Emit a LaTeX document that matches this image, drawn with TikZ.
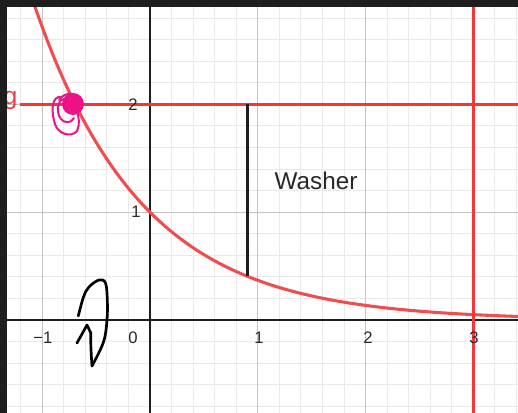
\documentclass[tikz,border=0pt]{standalone}
\usepackage{fontspec}
\setmainfont{Liberation Sans}
\definecolor{minorc}{RGB}{234,234,234}
\definecolor{majorc}{RGB}{196,196,196}
\definecolor{axisc}{RGB}{30,30,30}
\definecolor{curvec}{RGB}{240,78,78}
\definecolor{redlc}{RGB}{248,52,52}
\definecolor{labelc}{RGB}{40,40,40}
\definecolor{pinkc}{RGB}{238,18,138}
\definecolor{framec}{RGB}{30,30,30}
\definecolor{gc}{RGB}{235,60,70}
\begin{document}
\begin{tikzpicture}[x=0.75pt,y=-0.75pt,
  minorgrid/.style={draw=minorc,line width=0.75pt},
  majorgrid/.style={draw=majorc,line width=0.9pt},
  axisline/.style={draw=axisc,line width=1.1pt},
  curvestyle/.style={draw=curvec,line width=2.3pt},
  redline/.style={draw=redlc,line width=2.2pt},
  ticklabel/.style={font=\fontsize{12.5}{14}\selectfont,text=labelc,inner sep=0pt},
  pen/.style={draw=black,line width=2pt,line cap=round,line join=round},
  pinkpen/.style={draw=pinkc,line width=1.5pt,line cap=round,line join=round}]
\useasboundingbox (0,0) rectangle (518,413);
\fill[white] (0,0) rectangle (518,413);
\begin{scope}
\clip (7,7) rectangle (518,413);
% minor grid
\foreach \k in {-7,...,17} {\draw[minorgrid] ({150+21.56*\k},0) -- ({150+21.56*\k},413);}
\foreach \k in {-5,...,15} {\draw[minorgrid] (0,{320-21.56*\k}) -- (518,{320-21.56*\k});}
% major grid
\foreach \k in {-1,1,2,3} {\draw[majorgrid] ({150+107.8*\k},0) -- ({150+107.8*\k},413);}
\foreach \k in {1,2} {\draw[majorgrid] (0,{320-107.8*\k}) -- (518,{320-107.8*\k});}
% axes
\draw[axisline] (0,320) -- (518,320);
\draw[axisline] (150,0) -- (150,413);
% curve y = e^{-x}
\draw[curvestyle] plot[domain=-1.12:3.5,samples=200,smooth] ({150+107.8*\x},{320-107.8*exp(-\x)});
% red lines
\draw[redline] (20,104.4) -- (518,104.4);
\draw[redline] (473.4,0) -- (473.4,413);
% red g label
\node[font=\fontsize{18.5}{20}\selectfont,text=gc,inner sep=0pt,anchor=base east] (glabel) at (17.5,105) {g};
\end{scope}
% washer segment
\coordinate (top) at (247.5,104.4);
\coordinate (bot) at (247.5,276.5);
\draw[draw=axisc,line width=2pt] (top) -- (bot);
\node[font=\fontsize{18.2}{20}\selectfont,text=labelc,inner sep=0pt] (washer) at (316,181) {Washer};
% tick labels
\node[ticklabel] (xm1) at (43,338) {−1};
\node[ticklabel] (x0) at (133,338) {0};
\node[ticklabel] (x1) at (259,338) {1};
\node[ticklabel] (x2) at (368,338) {2};
\node[ticklabel] (x3) at (474,338) {3};
\node[ticklabel] (y1) at (136,212) {1};
\node[ticklabel] (y2) at (133,105) {2};
% pink scribble
\fill[pinkc] (73,104) circle (11);
\draw[pinkpen] (62,97) .. controls (51,95) and (51,112) .. (55,124) .. controls (58,134) and (71,138) .. (77,131) .. controls (80,125) and (79,117) .. (77,112);
\draw[pinkpen] (64,99) .. controls (57,100) and (56,113) .. (61,119) .. controls (64,123) and (71,124) .. (74,118);
\draw[pinkpen] (59,100) .. controls (62,95) and (68,93) .. (73,94);
% black hand drawing
\draw[pen] plot[smooth,tension=0.6] coordinates {(78.3,316) (83.5,297) (89,287) (99,280) (105.5,283) (107.3,300) (107,320) (103.5,342) (92,366)};
\draw[pen] (92,366) .. controls (91,352) and (90.5,340) .. (90.8,333) -- (87,325) -- (77,343);
% dark frame
\fill[framec] (0,0) rectangle (518,7);
\fill[framec] (0,0) rectangle (7,413);
\end{tikzpicture}
\end{document}
